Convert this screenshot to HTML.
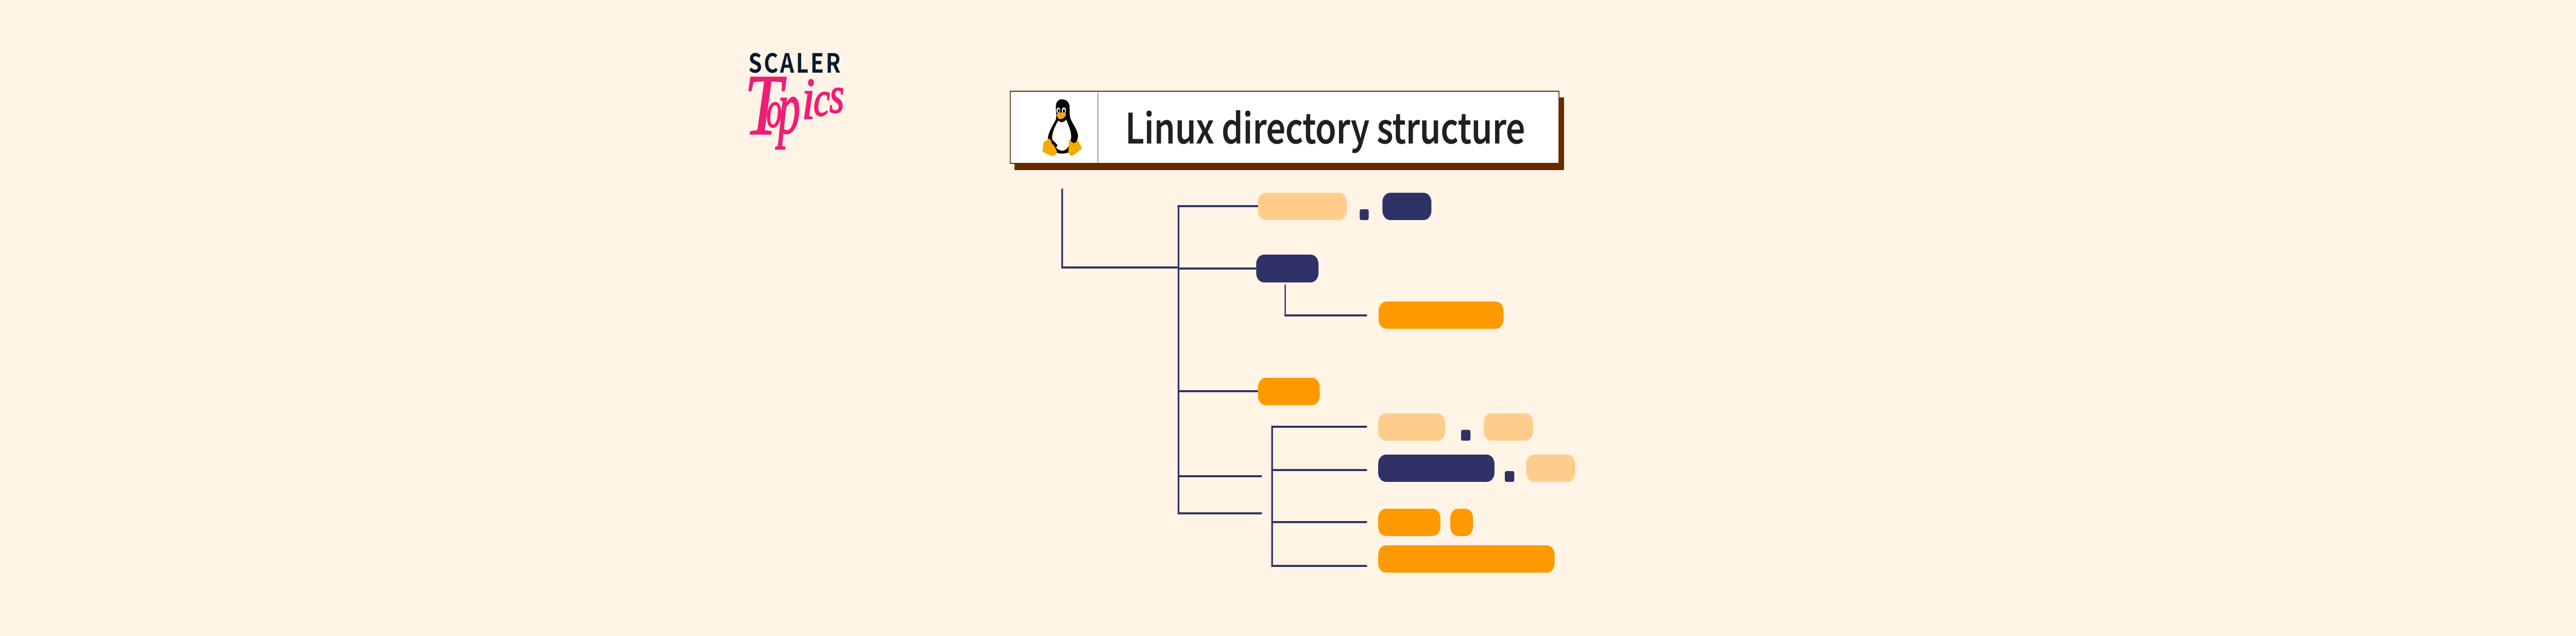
<!DOCTYPE html>
<html lang="en">
<head>
<meta charset="utf-8">
<title>Linux directory structure</title>
<style>
html,body{margin:0;padding:0;background:#fff4e6;width:100%;height:100%;overflow:hidden}
svg{display:block;width:100vw;height:100vh}
</style>
</head>
<body>
<svg xmlns="http://www.w3.org/2000/svg" viewBox="0 0 6000 1234" preserveAspectRatio="none">
<rect width="6000" height="1234" fill="#fff4e6"/>

<!-- Logo -->
<text x="1743" y="141" style="font-family:'Noto Sans CJK SC','Liberation Sans',sans-serif;font-weight:700" font-size="51" fill="#0b1a2e" textLength="215" lengthAdjust="spacing">SCALER</text>
<g fill="#ee1e76" stroke="#ee1e76" stroke-width="2.5" font-family="'Liberation Serif',serif" font-style="italic">
  <text x="1734" y="260" font-size="168" textLength="88" lengthAdjust="spacingAndGlyphs">T</text>
  <text x="1785" y="246" font-size="100" textLength="36" lengthAdjust="spacingAndGlyphs">o</text>
  <text x="1812" y="258" font-size="147" textLength="52" lengthAdjust="spacingAndGlyphs">p</text>
  <text x="1868" y="230" font-size="115" textLength="30" lengthAdjust="spacingAndGlyphs">i</text>
  <text x="1895" y="224" font-size="95" textLength="38" lengthAdjust="spacingAndGlyphs">c</text>
  <text x="1932" y="218" font-size="100" textLength="34" lengthAdjust="spacingAndGlyphs">s</text>
</g>

<!-- Title box -->
<rect x="2363" y="189" width="1280" height="141" fill="#662b00"/>
<rect x="2353" y="177" width="1278" height="140" fill="#ffffff" stroke="#662b00" stroke-width="2"/>
<rect x="2556.5" y="180" width="1.5" height="137" fill="#8a5a33"/>
<text x="2621" y="278" font-size="80" fill="#231f20" stroke="#231f20" stroke-width="1" style="font-family:'Noto Sans CJK SC','Liberation Sans',sans-serif;font-weight:500" textLength="931" lengthAdjust="spacingAndGlyphs">Linux directory structure</text>

<!-- Tux -->
<g transform="translate(2340,170) scale(0.33333)">
  <path fill="#050505" d="M400 68C370 68 355 90 358 120C360 150 365 175 355 190C340 215 305 260 302 295C300 320 330 340 350 372C370 388 430 388 460 372C490 330 515 310 512 275C505 240 475 210 460 180C450 150 458 110 450 95C440 75 420 68 400 68Z"/>
  <path fill="#fdfdfb" d="M375 192C340 240 325 280 335 315C350 350 380 370 410 367C440 360 455 335 465 290C465 250 445 215 430 186C410 205 390 205 375 192Z"/>
  <ellipse cx="375" cy="133" rx="13" ry="17" fill="#f0f0f0"/>
  <ellipse cx="414" cy="133" rx="15" ry="18" fill="#f0f0f0"/>
  <ellipse cx="377" cy="135" rx="7" ry="10" fill="#050505"/>
  <ellipse cx="414" cy="136" rx="8" ry="10" fill="#050505"/>
  <path fill="#f5aa00" d="M362 158C380 145 410 135 430 155C425 175 395 190 375 180C370 172 365 165 362 158Z"/>
  <path fill="#f5aa00" d="M264 370C270 350 268 325 272 318C285 312 300 305 310 295C330 310 345 335 366 372C365 385 350 398 335 398C315 395 285 385 264 370Z"/>
  <path fill="#f5aa00" d="M452 302C465 320 490 322 518 308C522 325 530 340 542 350C525 370 495 385 470 398C455 395 445 385 445 370C447 345 448 325 452 302Z"/>
  <path fill="#050505" d="M465 300C470 285 490 275 505 285C512 300 505 318 485 323C472 322 465 312 465 300Z"/>
  <path fill="#050505" d="M330 300L370 335L360 350L325 320Z"/>
</g>

<!-- Connectors -->
<g fill="#2e3267">
  <rect x="2472" y="366" width="4" height="155"/>
  <rect x="2472" y="517" width="271" height="4"/>
  <rect x="2743" y="398" width="4" height="600"/>
  <rect x="2743" y="398" width="188" height="4"/>
  <rect x="2747" y="519" width="181" height="4"/>
  <rect x="2747" y="757" width="184" height="4"/>
  <rect x="2745" y="922" width="194" height="4"/>
  <rect x="2745" y="994" width="194" height="4"/>
  <rect x="2992" y="552" width="3" height="62"/>
  <rect x="2992" y="610" width="192" height="4"/>
  <rect x="2961" y="826" width="4" height="274"/>
  <rect x="2963" y="826" width="221" height="4"/>
  <rect x="2963" y="910" width="221" height="4"/>
  <rect x="2963" y="1011" width="221" height="4"/>
  <rect x="2963" y="1096" width="221" height="4"/>
</g>

<!-- Pills -->
<g>
  <rect x="2930" y="374" width="207" height="53" rx="18" fill="#ffcd8b"/>
  <rect x="3167" y="406" width="21" height="21" rx="4" fill="#2e3267"/>
  <rect x="3220" y="374" width="114" height="53" rx="18" fill="#2e3267"/>

  <rect x="2926" y="494" width="145" height="54" rx="18" fill="#2e3267"/>
  <rect x="3211" y="585" width="291" height="53" rx="18" fill="#ff9900"/>
  <rect x="2930" y="733" width="144" height="53" rx="18" fill="#ff9900"/>

  <rect x="3210" y="802" width="156" height="53" rx="18" fill="#ffcd8b"/>
  <rect x="3403" y="834" width="22" height="21" rx="4" fill="#2e3267"/>
  <rect x="3456" y="802" width="115" height="53" rx="18" fill="#ffcd8b"/>

  <rect x="3210" y="882" width="271" height="53" rx="18" fill="#2e3267"/>
  <rect x="3505" y="914" width="22" height="21" rx="4" fill="#2e3267"/>
  <rect x="3555" y="882" width="114" height="53" rx="18" fill="#ffcd8b"/>

  <rect x="3210" y="987" width="145" height="53" rx="18" fill="#ff9900"/>
  <rect x="3378" y="987" width="53" height="53" rx="18" fill="#ff9900"/>
  <rect x="3210" y="1058" width="411" height="53" rx="18" fill="#ff9900"/>
</g>
</svg>
</body>
</html>
